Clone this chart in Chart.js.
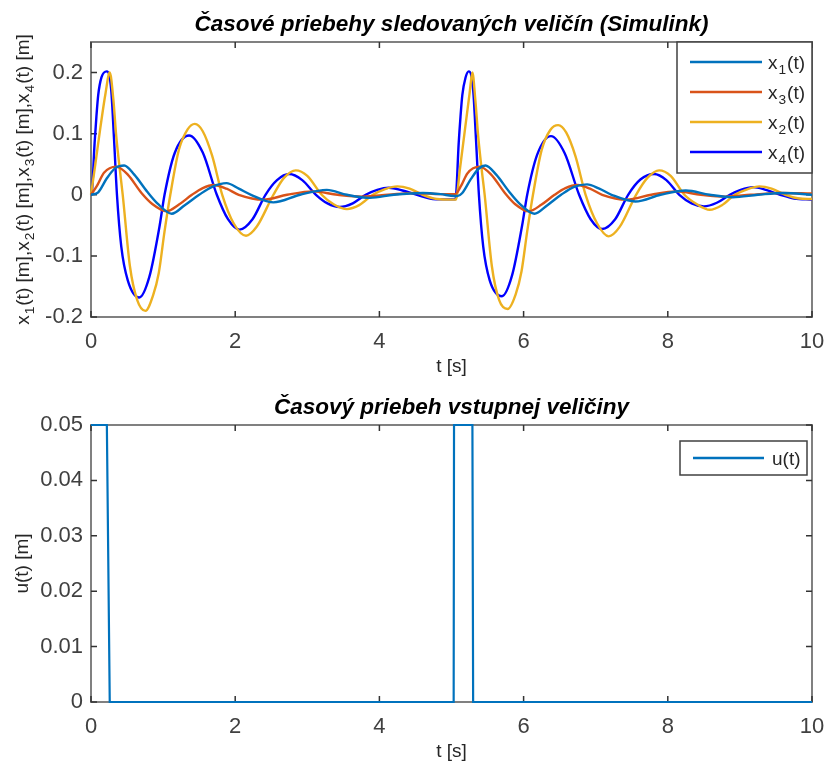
<!DOCTYPE html>
<html><head><meta charset="utf-8">
<script src="https://cdn.jsdelivr.net/npm/chart.js@4"></script>
<style>
html,body{margin:0;padding:0;background:#fff;width:827px;height:763px;overflow:hidden}
#c1{position:absolute;left:0;top:0}
#c2{position:absolute;left:0;top:380px}
</style></head><body>
<canvas id="c1" width="827" height="380"></canvas>
<canvas id="c2" width="827" height="383"></canvas>
<script>
// ---- data ([t, value]) ----
const x1Data = [[0,0],[0.1,0.004],[0.22,0.027],[0.34,0.044],[0.46,0.048],[0.6,0.033],[0.78,0.005],[0.92,-0.014],[1.12,-0.031],[1.3,-0.017],[1.5,0],[1.68,0.013],[1.88,0.019],[2.05,0.01],[2.22,0],[2.53,-0.0125],[2.9,0],[3.27,0.008],[3.55,0],[3.87,-0.005],[4.2,0],[4.6,0.003],[4.85,0.001],[5.04,-0.002],[5.08,-0.002],[5.15,0.003],[5.27,0.026],[5.38,0.043],[5.47,0.048],[5.62,0.033],[5.8,0.005],[5.94,-0.014],[6.15,-0.031],[6.33,-0.017],[6.52,0],[6.7,0.013],[6.88,0.017],[7.05,0.01],[7.22,0],[7.55,-0.011],[7.9,0],[8.25,0.007],[8.58,0],[8.9,-0.004],[9.25,0],[9.6,0.003],[10,0]];
const x3Data = [[0,0],[0.08,0.014],[0.18,0.036],[0.35,0.046],[0.51,0.033],[0.70,0.003],[0.85,-0.015],[1.05,-0.027],[1.22,-0.016],[1.4,0],[1.55,0.011],[1.70,0.016],[1.88,0.01],[2.05,0],[2.39,-0.008],[2.72,0],[3.08,0.0055],[3.42,0],[3.77,-0.003],[4.12,0],[4.5,0.003],[4.85,0.001],[5.05,0.001],[5.13,0.014],[5.22,0.035],[5.39,0.046],[5.55,0.033],[5.74,0.003],[5.88,-0.015],[6.07,-0.027],[6.25,-0.016],[6.43,0],[6.58,0.011],[6.75,0.016],[6.92,0.01],[7.09,0],[7.43,-0.008],[7.77,0],[8.12,0.0055],[8.46,0],[8.8,-0.003],[9.15,0],[9.55,0.003],[10,0.002]];
const x2Data = [[0,0],[0.06,0.05],[0.13,0.11],[0.2,0.165],[0.26,0.2],[0.31,0.156],[0.35,0.096],[0.40,0.041],[0.44,0],[0.54,-0.117],[0.64,-0.172],[0.755,-0.19],[0.86,-0.165],[0.94,-0.128],[1.02,-0.06],[1.10,0],[1.22,0.074],[1.34,0.107],[1.44,0.116],[1.55,0.104],[1.68,0.064],[1.82,0],[1.98,-0.047],[2.15,-0.067],[2.3,-0.052],[2.53,0],[2.68,0.028],[2.84,0.040],[3.0,0.031],[3.2,0],[3.37,-0.016],[3.55,-0.0235],[3.72,-0.017],[3.91,0],[4.07,0.009],[4.25,0.0137],[4.42,0.01],[4.6,0],[4.8,-0.007],[5.0,-0.008],[5.06,-0.008],[5.12,0.045],[5.19,0.11],[5.25,0.165],[5.29,0.2],[5.33,0.156],[5.37,0.096],[5.42,0.04],[5.46,0],[5.56,-0.117],[5.66,-0.172],[5.78,-0.187],[5.89,-0.163],[5.97,-0.126],[6.05,-0.06],[6.13,0],[6.25,0.073],[6.37,0.106],[6.48,0.114],[6.59,0.102],[6.72,0.063],[6.86,0],[7.02,-0.047],[7.18,-0.068],[7.33,-0.053],[7.56,0],[7.72,0.028],[7.88,0.040],[8.04,0.031],[8.23,0],[8.41,-0.016],[8.58,-0.0245],[8.75,-0.017],[8.93,0],[9.1,0.009],[9.27,0.0137],[9.44,0.01],[9.63,0],[9.82,-0.006],[10,-0.007]];
const x4Data = [[0,0],[0.01,0.002],[0.05,0.085],[0.075,0.128],[0.1,0.163],[0.145,0.192],[0.22,0.202],[0.28,0.172],[0.32,0.09],[0.36,0],[0.42,-0.085],[0.51,-0.14],[0.67,-0.168],[0.81,-0.134],[0.95,-0.052],[1.02,0],[1.16,0.068],[1.36,0.097],[1.55,0.069],[1.745,0],[1.9,-0.04],[2.06,-0.057],[2.24,-0.04],[2.42,0],[2.58,0.024],[2.75,0.034],[2.93,0.024],[3.12,0],[3.28,-0.014],[3.45,-0.020],[3.63,-0.014],[3.81,0],[3.97,0.008],[4.13,0.0115],[4.32,0.007],[4.52,0],[4.7,-0.006],[4.9,-0.0075],[5.05,-0.0075],[5.06,-0.005],[5.10,0.085],[5.125,0.128],[5.15,0.163],[5.195,0.192],[5.24,0.202],[5.30,0.172],[5.34,0.09],[5.38,0],[5.44,-0.085],[5.53,-0.14],[5.70,-0.166],[5.84,-0.132],[5.98,-0.05],[6.05,0],[6.19,0.066],[6.38,0.096],[6.57,0.068],[6.77,0],[6.93,-0.04],[7.09,-0.056],[7.27,-0.04],[7.45,0],[7.62,0.025],[7.81,0.034],[7.98,0.024],[8.16,0],[8.33,-0.014],[8.5,-0.019],[8.68,-0.013],[8.86,0],[9.01,0.008],[9.18,0.0125],[9.36,0.008],[9.56,0],[9.75,-0.006],[10,-0.008]];
const uData = [[0,0.05],[0.22,0.05],[0.26,0],[5.03,0],[5.035,0.05],[5.29,0.05],[5.30,0],[10,0]];

const xTicks = [0,2,4,6,8,10];
const xTickLabels = ['0','2','4','6','8','10'];
const yTicksTop = [-0.2,-0.1,0,0.1,0.2];
const yTickLabelsTop = ['-0.2','-0.1','0','0.1','0.2'];
const yTicksBottom = [0,0.01,0.02,0.03,0.04,0.05];
const yTickLabelsBottom = ['0','0.01','0.02','0.03','0.04','0.05'];

const seriesNames = ['x_1(t)','x_3(t)','x_2(t)','x_4(t)'];
const seriesColors = ['#0072BD','#D95319','#EDB120','#0000FF'];
const topTitle = 'Časové priebehy sledovaných veličín (Simulink)';
const bottomTitle = 'Časový priebeh vstupnej veličiny';
const xTitle = 't [s]';
const yTitleTop = 'x_1(t) [m],x_2(t) [m],x_3(t) [m],x_4(t) [m]';
const yTitleBottom = 'u(t) [m]';
const uName = 'u(t)';

const FONT = '"Liberation Sans", Arial, sans-serif';

function toPts(arr){ return arr.map(p => ({x:p[0], y:p[1]})); }

function drawRich(ctx, str, x, y, size, align){
  const segs=[]; let buf=''; let i=0;
  while(i<str.length){
    if(str[i]==='_'){ if(buf){segs.push({t:buf,sub:false});buf='';} segs.push({t:str[i+1],sub:true}); i+=2; }
    else { buf+=str[i]; i++; }
  }
  if(buf) segs.push({t:buf,sub:false});
  const subSize = size*0.72;
  let total=0;
  segs.forEach(s=>{ ctx.font=(s.sub?subSize:size)+'px '+FONT; s.w=ctx.measureText(s.t).width + (s.sub?2:0); total+=s.w; });
  let cx = align==='center' ? x-total/2 : (align==='right' ? x-total : x);
  ctx.textBaseline='alphabetic'; ctx.textAlign='left';
  segs.forEach(s=>{ ctx.font=(s.sub?subSize:size)+'px '+FONT; ctx.fillText(s.t, cx+(s.sub?1:0), y+(s.sub?size*0.28:0)); cx+=s.w; });
  return total;
}

const framePlugin = {
  id:'frame',
  beforeDatasetsDraw(chart){
    const ctx=chart.ctx, a=chart.chartArea;
    ctx.save();
    ctx.strokeStyle='#808080'; ctx.lineWidth=2;
    ctx.strokeRect(a.left, a.top, a.right-a.left, a.bottom-a.top);
    ctx.strokeStyle='#333'; ctx.lineWidth=1.5;
    const L=6;
    chart.scales.x.ticks.forEach(t=>{
      const px=chart.scales.x.getPixelForValue(t.value);
      ctx.beginPath(); ctx.moveTo(px,a.bottom); ctx.lineTo(px,a.bottom-L);
      ctx.moveTo(px,a.top); ctx.lineTo(px,a.top+L); ctx.stroke();
    });
    chart.scales.y.ticks.forEach(t=>{
      const py=chart.scales.y.getPixelForValue(t.value);
      ctx.beginPath(); ctx.moveTo(a.left,py); ctx.lineTo(a.left+L,py);
      ctx.moveTo(a.right,py); ctx.lineTo(a.right-L,py); ctx.stroke();
    });
    ctx.restore();
  },
  afterDraw(chart, args, o){
    const ctx=chart.ctx, a=chart.chartArea;
    const cx=(a.left+a.right)/2;
    ctx.save();
    // title
    ctx.fillStyle='#000';
    ctx.font='italic bold 22.5px '+FONT;
    ctx.textAlign='center'; ctx.textBaseline='middle';
    ctx.fillText(o.title, cx, a.top-17);
    // x title
    ctx.fillStyle='#262626';
    drawRich(ctx, xTitle, cx, a.bottom+55, 19, 'center');
    // y title
    ctx.save();
    ctx.translate(o.yTitleX, (a.top+a.bottom)/2);
    ctx.rotate(-Math.PI/2);
    drawRich(ctx, o.yTitle, 0, 7, 19, 'center');
    ctx.restore();
    // legend
    const lg=o.legend;
    const bx=a.right-lg.insetR-lg.w, by=a.top+lg.insetT;
    ctx.fillStyle='#fff'; ctx.fillRect(bx,by,lg.w,lg.h);
    ctx.strokeStyle='#404040'; ctx.lineWidth=1.5; ctx.strokeRect(bx,by,lg.w,lg.h);
    chart.data.datasets.forEach((ds,i)=>{
      const ry=by+lg.first+i*lg.step;
      ctx.strokeStyle=ds.borderColor; ctx.lineWidth=2.3;
      ctx.beginPath(); ctx.moveTo(bx+lg.lx0,ry); ctx.lineTo(bx+lg.lx1,ry); ctx.stroke();
      ctx.fillStyle='#262626';
      drawRich(ctx, ds.label, bx+lg.tx, ry+6.5, 19, 'left');
    });
    ctx.restore();
  }
};

function makeOptions(cfg){
  return {
    responsive:false, animation:false, devicePixelRatio:1,
    layout:{padding:{top:cfg.top,left:0,right:15,bottom:0}},
    plugins:{legend:{display:false}, tooltip:{enabled:false}, title:{display:false},
      frame:{title:cfg.title, yTitle:cfg.yTitle, yTitleX:cfg.yTitleX, legend:cfg.legend}},
    elements:{point:{radius:0}},
    scales:{
      x:{type:'linear', min:0, max:10,
        grid:{display:false, drawTicks:false}, border:{display:false},
        afterBuildTicks:s=>{ s.ticks = xTicks.map(v=>({value:v})); },
        afterFit:s=>{ s.height = cfg.xh; s.paddingLeft = 0; s.paddingRight = 0; },
        ticks:{padding:12, color:'#404040', font:{family:FONT,size:22},
          callback:(v)=>xTickLabels[xTicks.indexOf(v)], maxRotation:0, autoSkip:false}},
      y:{type:'linear', min:cfg.ymin, max:cfg.ymax,
        grid:{display:false, drawTicks:false}, border:{display:false},
        afterBuildTicks:s=>{ s.ticks = cfg.yTicks.map(v=>({value:v})); },
        afterFit:s=>{ s.width = 91; s.paddingTop = 0; s.paddingBottom = 0; },
        ticks:{padding:8, color:'#404040', font:{family:FONT,size:22},
          callback:(v)=>cfg.yLabels[cfg.yTicks.indexOf(v)], autoSkip:false}}
    }
  };
}

const topSeries = [x1Data, x3Data, x2Data, x4Data];
new Chart(document.getElementById('c1'), {
  type:'line',
  data:{datasets: topSeries.map((d,i)=>({label:seriesNames[i], data:toPts(d),
    borderColor:seriesColors[i], borderWidth:2.4, cubicInterpolationMode:'monotone', fill:false, clip:4}))},
  options: makeOptions({top:42, xh:63, ymin:-0.2, ymax:0.25, yTicks:yTicksTop, yLabels:yTickLabelsTop,
    title:topTitle, yTitle:yTitleTop, yTitleX:22,
    legend:{w:135,h:131,insetR:0,insetT:0,first:20,step:30,lx0:13,lx1:85,tx:91}}),
  plugins:[framePlugin]
});

new Chart(document.getElementById('c2'), {
  type:'line',
  data:{datasets:[{label:uName, data:toPts(uData), borderColor:'#0072BD', borderWidth:2.2, tension:0, fill:false, clip:4}]},
  options: makeOptions({top:45, xh:61, ymin:0, ymax:0.05, yTicks:yTicksBottom, yLabels:yTickLabelsBottom,
    title:bottomTitle, yTitle:yTitleBottom, yTitleX:21,
    legend:{w:127,h:34,insetR:5,insetT:16,first:17,step:30,lx0:13,lx1:84,tx:92}}),
  plugins:[framePlugin]
});
</script>
</body></html>
